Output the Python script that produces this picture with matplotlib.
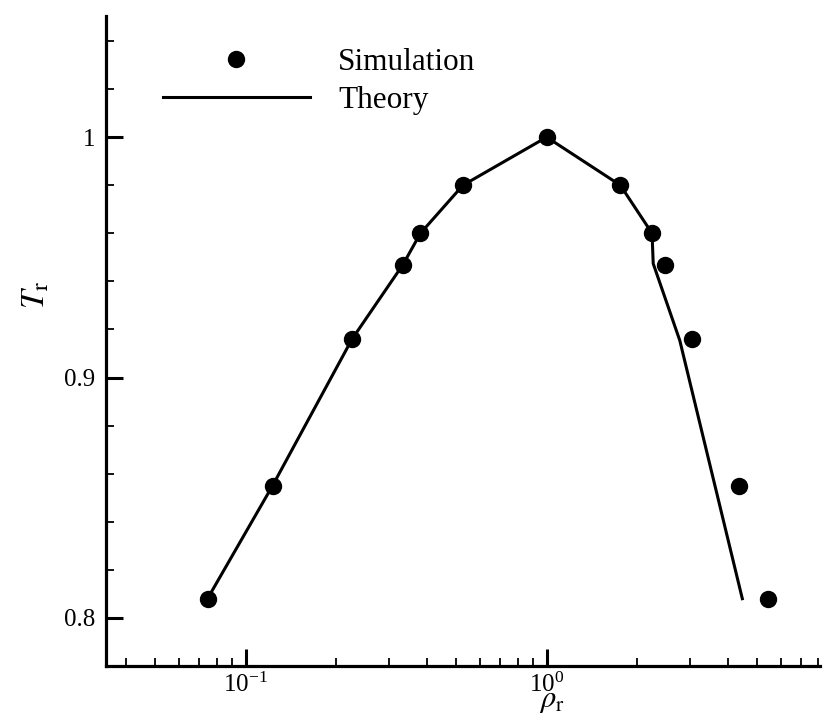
import matplotlib
matplotlib.use('Agg')
import matplotlib.pyplot as plt
from matplotlib.ticker import LogLocator, FixedLocator, FuncFormatter, NullFormatter, MultipleLocator
import math

plt.rcParams['font.family'] = ['Liberation Serif', 'DejaVu Serif']
plt.rcParams['mathtext.fontset'] = 'stix'

# Simulation points
sim_rho = [0.0746, 0.1227, 0.2255, 0.333, 0.3805, 0.527, 1.0, 1.757, 2.24, 2.47, 3.05, 4.35, 5.46]
sim_T = [0.808, 0.855, 0.916, 0.947, 0.960, 0.980, 1.000, 0.980, 0.960, 0.947, 0.916, 0.855, 0.808]

# Theory curve vertices
th_rho = [0.0746, 0.1227, 0.2255, 0.333, 0.3805, 0.527, 1.0, 1.757, 2.24, 2.26, 2.77, 4.47]
th_T = [0.808, 0.855, 0.916, 0.947, 0.960, 0.980, 1.000, 0.980, 0.960, 0.9474, 0.9154, 0.808]

ytick_vals = [0.8, 0.9, 1.0]

fig = plt.figure(figsize=(8.24, 7.16), dpi=100)
ax = fig.add_axes([106/824, 1-666/716, (820-106)/824, (666-16)/716])

ax.plot(sim_rho, sim_T, 'o', color='black', markersize=11.5, ls='none', label='Simulation')
ax.plot(th_rho, th_T, '-', color='black', lw=2.2, label='Theory')

ax.set_xscale('log')
ax.set_xlim(0.0343, 8.1)
ax.set_ylim(0.78, 1.0504)

ax.yaxis.set_major_locator(FixedLocator(ytick_vals))
ax.yaxis.set_major_formatter(FuncFormatter(lambda v, p: '%g' % v))
ax.yaxis.set_minor_locator(MultipleLocator(0.02))

def fmt_log(v, p):
    e = int(round(math.log10(v)))
    return r'$\mathregular{10^{%d}}$' % e

ax.xaxis.set_major_locator(LogLocator(base=10, numticks=10))
ax.xaxis.set_major_formatter(FuncFormatter(fmt_log))
ax.xaxis.set_minor_locator(LogLocator(base=10, subs=range(2, 10), numticks=20))
ax.xaxis.set_minor_formatter(NullFormatter())

for s in ['top', 'right']:
    ax.spines[s].set_visible(False)
for s in ['left', 'bottom']:
    ax.spines[s].set_linewidth(2.3)

ax.tick_params(which='major', direction='in', length=12, width=2.2, labelsize=18)
ax.tick_params(axis='x', which='major', pad=5)
ax.tick_params(axis='y', which='major', pad=8)
ax.tick_params(which='minor', direction='in', length=6, width=1.3)

# axis titles placed by hand like in the original (rho sits right under the 10^0 label)
fig.text(552/824, 1/716, r'$\rho_{\mathrm{r}}$', fontsize=22, ha='center', va='bottom')
fig.text(36/824, 1-295/716, r'$T_{\mathrm{r}}$', fontsize=24, ha='center', va='center', rotation=90)

leg = ax.legend(loc='upper left', bbox_to_anchor=(163/824, 1-48/716), bbox_transform=fig.transFigure,
                frameon=False, numpoints=1, handlelength=4.7, handletextpad=0.9,
                borderpad=0, borderaxespad=0, labelspacing=0.3, fontsize=22.5)

fig.savefig('out.png', dpi=100)
